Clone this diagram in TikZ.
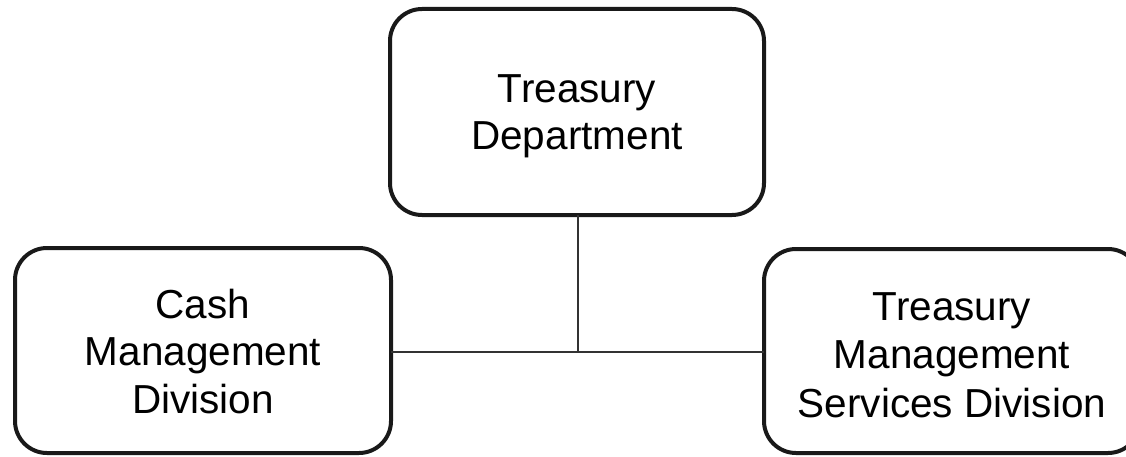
\documentclass[tikz,border=0pt]{standalone}
\usepackage{fontspec}
\setmainfont{Liberation Sans}
\begin{document}
\begin{tikzpicture}[x=1pt,y=-1pt,
  unitbox/.style={draw=black!90, line width=4pt, rounded corners=32pt,
    inner sep=0pt, outer sep=0pt, align=center, text depth=10pt,
    font=\fontsize{40.5}{47.5}\selectfont},
  link/.style={draw=black!80, line width=2pt}]
\useasboundingbox (0,0) rectangle (1126,457);
\clip (0,0) rectangle (1126,457);
\node[unitbox, minimum width=374pt, minimum height=206pt, text height=86pt]
  (top) at (577,112) {Treasury\\Department};
\node[unitbox, minimum width=376pt, minimum height=205pt, text height=135pt]
  (cash) at (203,350.5) {Cash\\Management\\Division};
\node[unitbox, minimum width=376pt, minimum height=204pt, text height=142pt,
  font=\fontsize{40.5}{48.5}\selectfont]
  (tms) at (952,351) {Treasury\\Management\\Services Division};
\coordinate (j) at (578,352);
\draw[link] (top.south -| j) -- (j);
\draw[link] (cash.east |- j) -- (tms.west |- j);
\end{tikzpicture}
\end{document}
